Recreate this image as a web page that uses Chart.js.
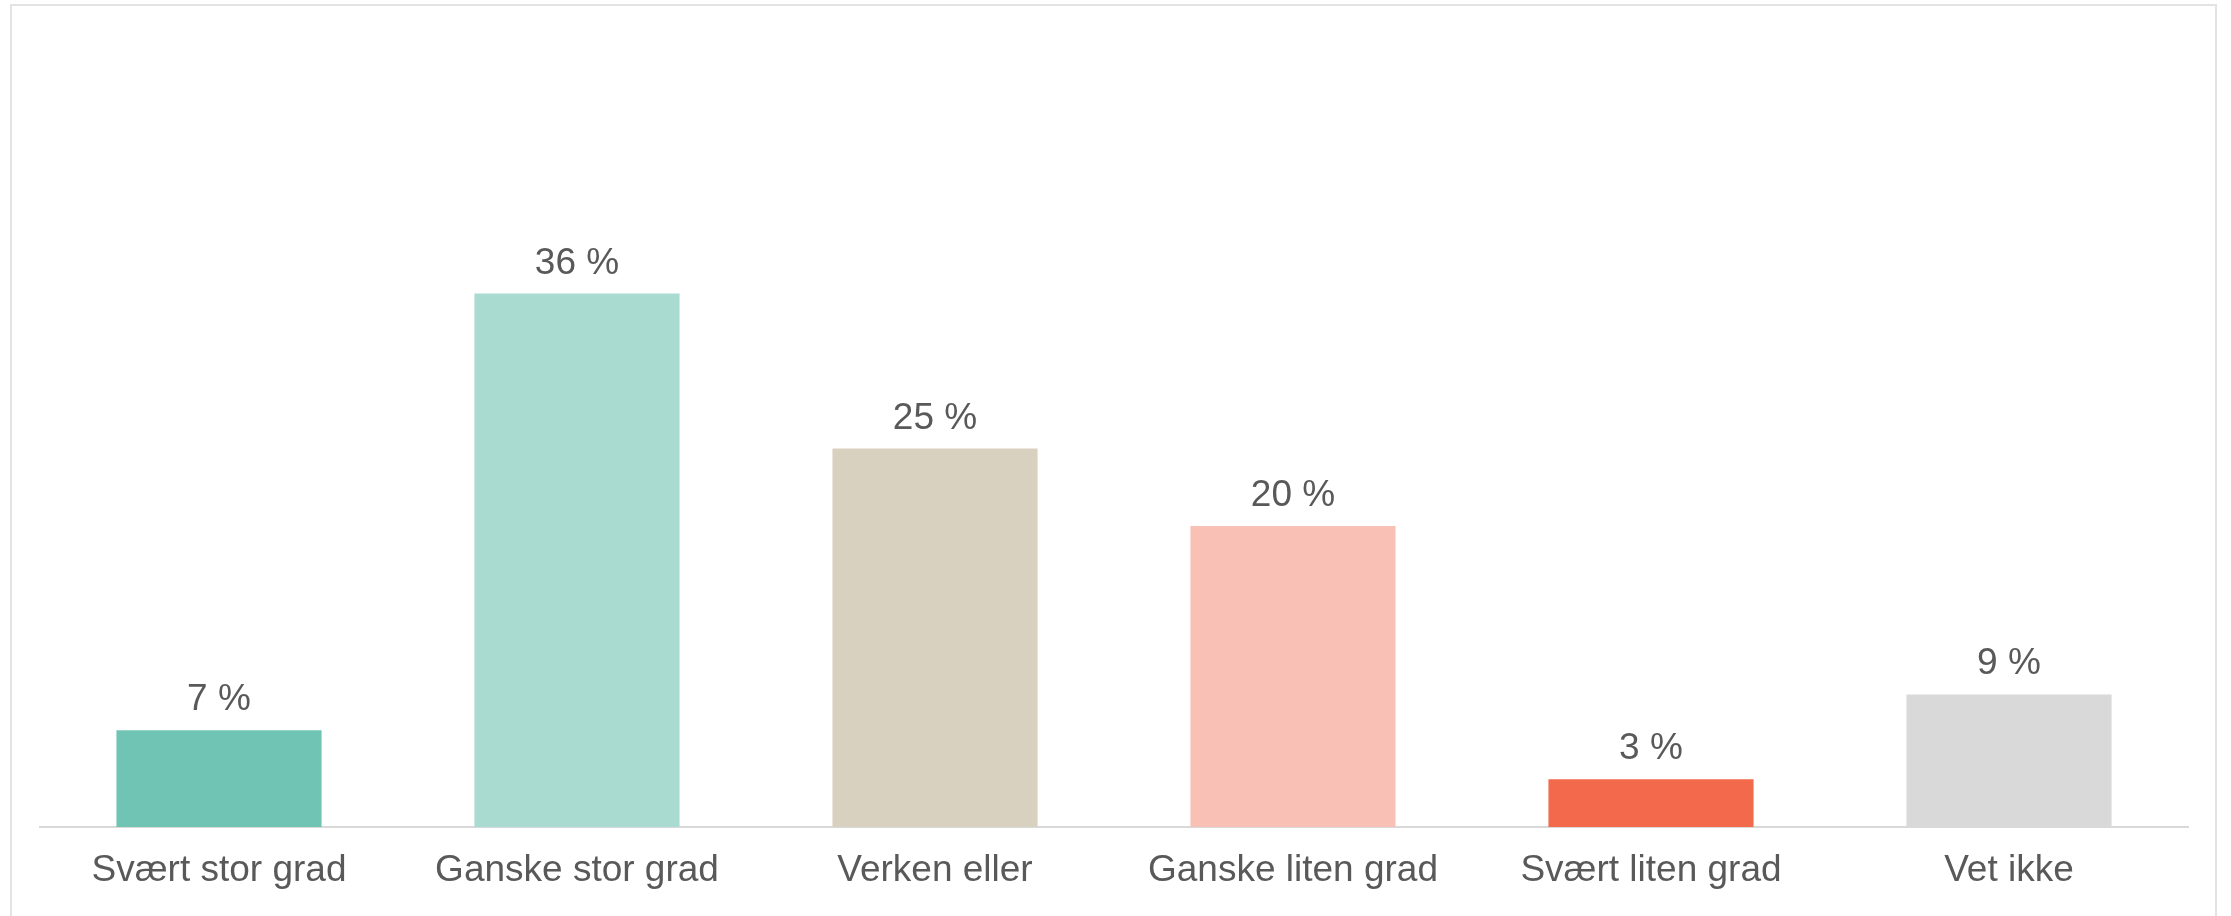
<!DOCTYPE html>
<html>
<head>
<meta charset="utf-8">
<script src="https://cdn.jsdelivr.net/npm/chart.js@4"></script>
<style>
    html, body { margin: 0; padding: 0; background: #fff; overflow: hidden; }
    #frame { position: absolute; left: 10px; top: 4px; width: 2207px; height: 930px; border: 2px solid #e3e3e3; box-sizing: border-box; }
    #myChart1 { position: absolute; left: 0; top: 0; }
</style>
</head>
<body>
<div id="frame"></div>
<canvas id="myChart1" width="2231" height="916"></canvas>
<script>
    const categories = [
        "Svært stor grad",
        "Ganske stor grad",
        "Verken eller",
        "Ganske liten grad",
        "Svært liten grad",
        "Vet ikke",
    ];
    const values = [6.5, 35.8, 25.4, 20.2, 3.2, 8.9];
    const barColors = ["#70C4B4", "#A9DBD1", "#D9D1BF", "#F9C1B5", "#F2694C", "#D9D9D9"];

    const textColor = "#595959";
    const fontFamily = "'Liberation Sans', Arial, sans-serif";

    // labels "36 %" above each bar
    const valueLabels = {
        id: "valueLabels",
        afterDatasetsDraw(chart) {
            const ctx = chart.ctx;
            const meta = chart.getDatasetMeta(0);
            ctx.save();
            ctx.font = "37px " + fontFamily;
            ctx.fillStyle = textColor;
            ctx.textAlign = "center";
            ctx.textBaseline = "alphabetic";
            meta.data.forEach((bar, i) => {
                ctx.fillText(Math.round(values[i]) + " %", bar.x, bar.y - 20);
            });
            ctx.restore();
        }
    };

    const ctx = document.getElementById("myChart1").getContext("2d");
    new Chart(ctx, {
        type: "bar",
        data: {
            labels: categories,
            datasets: [{
                data: values,
                backgroundColor: barColors,
                borderWidth: 0,
                barPercentage: 0.573,
                categoryPercentage: 1.0,
            }]
        },
        options: {
            responsive: false,
            devicePixelRatio: 1,
            animation: false,
            layout: { padding: { left: 40, right: 43, top: 231, bottom: 0 } },
            plugins: {
                legend: { display: false },
                tooltip: { enabled: false },
            },
            scales: {
                x: {
                    grid: { display: false, drawTicks: false },
                    border: { display: true, color: "#d9d9d9", width: 2 },
                    ticks: {
                        color: textColor,
                        font: { family: fontFamily, size: 37 },
                        padding: 22,
                        maxRotation: 0,
                        autoSkip: false,
                    },
                    afterFit(scale) { scale.height = 89; },
                },
                y: {
                    display: false,
                    min: 0,
                    max: 40,
                },
            },
        },
        plugins: [valueLabels],
    });
</script>
</body>
</html>
